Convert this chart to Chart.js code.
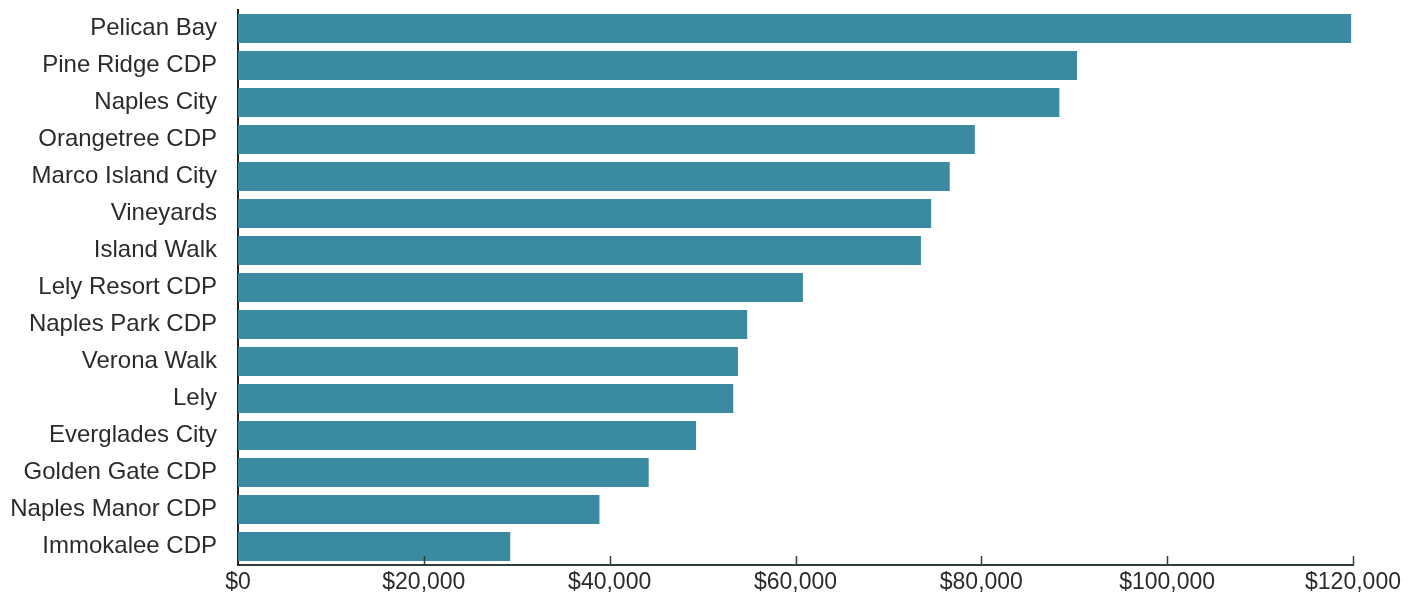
<!DOCTYPE html>
<html>
<head>
<meta charset="utf-8">
<script src="https://cdn.jsdelivr.net/npm/chart.js@4/dist/chart.umd.min.js"></script>
<style>
    html, body { margin: 0; padding: 0; background: #fff; }
    #wrap { width: 1410px; height: 603px; position: relative; }
</style>
</head>
<body>
<div id="wrap"><canvas id="chart"></canvas></div>
<script>
// places, top to bottom
const places = [
    'Pelican Bay', 'Pine Ridge CDP', 'Naples City', 'Orangetree CDP', 'Marco Island City',
    'Vineyards', 'Island Walk', 'Lely Resort CDP', 'Naples Park CDP', 'Verona Walk',
    'Lely', 'Everglades City', 'Golden Gate CDP', 'Naples Manor CDP', 'Immokalee CDP'
];
// median household income
const income = [
    119800, 90300, 88400, 79300, 76600,
    74600, 73500, 60800, 54800, 53800,
    53300, 49300, 44200, 38900, 29300
];
const xTicks = [0, 20000, 40000, 60000, 80000, 100000, 120000];

const barColor = '#3a8aa1';
const textColor = '#2b2b2b';
const axisColor = '#2e3f3a';

// little tick marks pointing up from the x axis
const upTicks = {
    id: 'upTicks',
    afterDatasetsDraw(chart) {
        const ctx = chart.ctx;
        const x = chart.scales.x;
        const bottom = chart.chartArea.bottom;
        ctx.save();
        ctx.strokeStyle = axisColor;
        ctx.lineWidth = 1.5;
        xTicks.forEach(v => {
            if (v === 0) return;
            const px = Math.round(x.getPixelForValue(v)) + 0.5;
            ctx.beginPath();
            ctx.moveTo(px, bottom);
            ctx.lineTo(px, bottom - 9);
            ctx.stroke();
        });
        ctx.restore();
    }
};

const ctx = document.getElementById('chart').getContext('2d');
new Chart(ctx, {
    type: 'bar',
    data: {
        labels: places,
        datasets: [{
            data: income,
            backgroundColor: barColor,
            borderWidth: 0,
            barPercentage: 0.8,
            categoryPercentage: 0.98
        }]
    },
    options: {
        indexAxis: 'y',
        responsive: true,
        maintainAspectRatio: false,
        animation: false,
        layout: { padding: { top: 10, right: 57, bottom: 0, left: 0 } },
        plugins: {
            legend: { display: false },
            tooltip: { enabled: false }
        },
        scales: {
            x: {
                min: 0,
                max: 120000,
                afterBuildTicks: scale => { scale.ticks = xTicks.map(v => ({ value: v })); },
                afterFit: scale => {
                    scale.height = 38;
                    scale.paddingLeft = 0;
                    scale.paddingRight = 0;
                },
                grid: { display: false, drawTicks: false },
                border: { display: true, color: axisColor, width: 2 },
                ticks: {
                    padding: 4,
                    color: textColor,
                    font: { family: 'Liberation Sans, Arial, sans-serif', size: 23 },
                    maxRotation: 0,
                    callback: v => '$' + Number(v).toLocaleString('en-US')
                }
            },
            y: {
                afterFit: scale => {
                    scale.width = 238;
                    scale.paddingTop = 0;
                    scale.paddingBottom = 0;
                },
                grid: { display: false, drawTicks: false },
                border: { display: true, color: '#222222', width: 2 },
                ticks: {
                    padding: 21,
                    color: textColor,
                    font: { family: 'Liberation Sans, Arial, sans-serif', size: 24 }
                }
            }
        }
    },
    plugins: [upTicks]
});
</script>
</body>
</html>
